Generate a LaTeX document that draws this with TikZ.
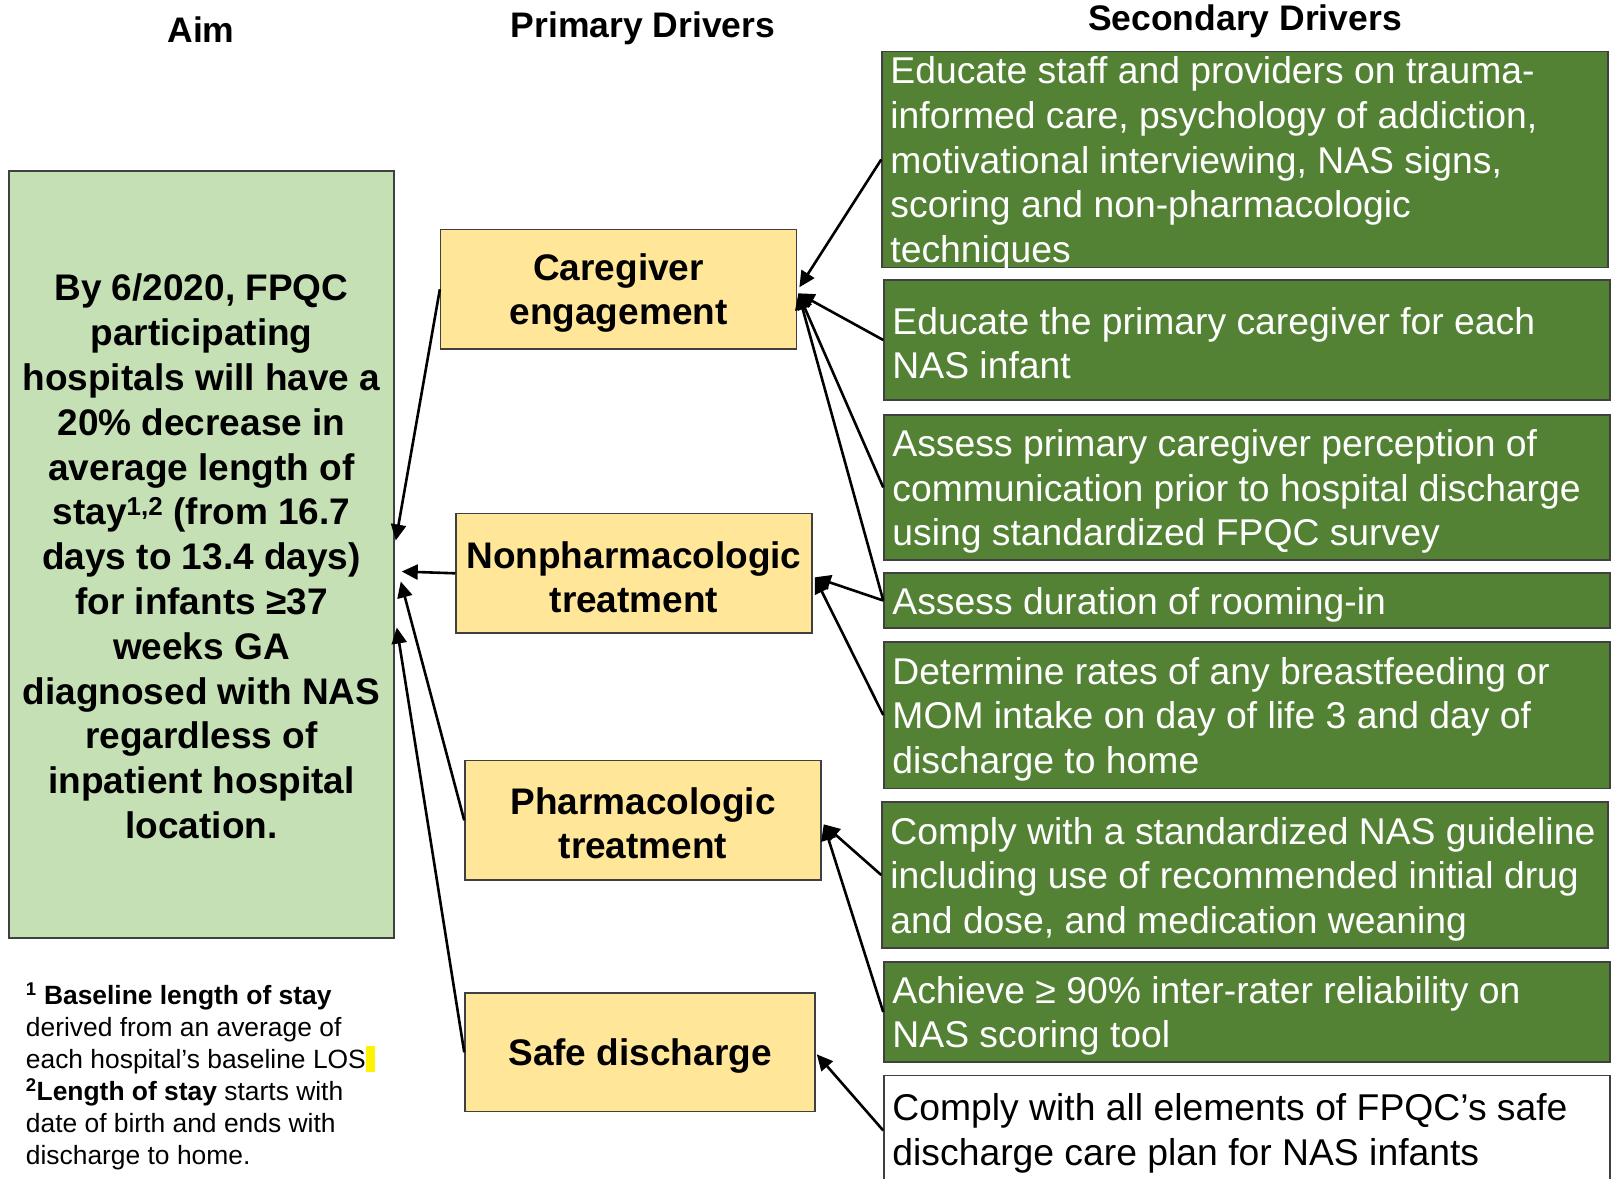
\documentclass[tikz,border=0pt]{standalone}
\usepackage{fontspec}
\setmainfont{Liberation Sans}
\usetikzlibrary{arrows.meta,calc}
\definecolor{aimfill}{HTML}{C5E0B4}
\definecolor{primfill}{HTML}{FFE699}
\definecolor{secfill}{HTML}{548235}
\definecolor{edgegray}{HTML}{404040}
\begin{document}
\begin{tikzpicture}[x=1pt,y=-1pt,
  header/.style={font=\fontsize{35.5}{42}\selectfont\bfseries, inner sep=0pt},
  aimbox/.style={draw=edgegray, line width=1.5pt, fill=aimfill, inner sep=0pt},
  aimtext/.style={align=center, font=\fontsize{37}{44.8}\selectfont\bfseries, inner sep=0pt},
  primbox/.style={draw=edgegray, line width=1.5pt, fill=primfill, inner sep=0pt,
    minimum width=356pt, minimum height=119.5pt},
  primtext/.style={align=center, font=\fontsize{37}{44.3}\selectfont\bfseries, inner sep=0pt},
  secbox/.style={draw=edgegray, line width=1.5pt, fill=secfill, inner sep=0pt, minimum width=726pt},
  sectext/.style={anchor=west, text=white, align=left, inner sep=0pt,
    font=\fontsize{37.3}{44.6}\selectfont},
  arr/.style={line width=2.6pt, -{Triangle[length=16pt,width=15pt]}}
]
\useasboundingbox (0,0) rectangle (1614,1178);
\fill[white] (0,0) rectangle (1614,1178);
\clip (0,0) rectangle (1614,1178);

% headers
\node[header] (haim) at (201,30) {Aim};
\node[header] (hprim) at (643,28.5) {Primary Drivers};
\node[header] (hsec) at (1245,21) {Secondary Drivers};

% aim
\node[aimbox, minimum width=385pt, minimum height=767pt] (aim) at (201.5,554.5) {};
\node[aimtext] (aimt) at ($(aim.center)+(0,2)$)
  {By 6/2020, FPQC\\ participating\\ hospitals will have a\\ 20\% decrease in\\ average length of\\ stay\textsuperscript{1,2} (from 16.7\\ days to 13.4 days)\\ for infants ≥37\\ weeks GA\\ diagnosed with NAS\\ regardless of\\ inpatient hospital\\ location.};

% primary drivers
\node[primbox] (care) at (618.6,289.3) {};
\node[primtext] (caret) at ($(care.center)+(0,4)$) {Caregiver\\ engagement};
\node[primbox] (nonph) at (634,573.3) {};
\node[primtext] (nonpht) at ($(nonph.center)+(0,4)$) {Nonpharmacologic\\ treatment};
\node[primbox] (pharm) at (643,820.3) {};
\node[primtext] (pharmt) at ($(pharm.center)+(0,3)$) {Pharmacologic\\ treatment};
\node[primbox, minimum width=350pt, minimum height=118.6pt] (safe) at (640,1052.3) {};
\node[primtext] (safet) at ($(safe.center)+(0,4)$) {Safe discharge};

% secondary drivers
\node[secbox, minimum height=216pt] (s1) at (1245,159.5) {};
\node[sectext] (s1t) at ($(s1.west)+(9,4)$)
  {Educate staff and providers on trauma-\\ informed care, psychology of addiction,\\ motivational interviewing, NAS signs,\\ scoring and non-pharmacologic\\ techniques};
\node[secbox, minimum height=120pt] (s2) at (1247,340) {};
\node[sectext] (s2t) at ($(s2.west)+(9,3)$)
  {Educate the primary caregiver for each\\ NAS infant};
\node[secbox, minimum height=145pt] (s3) at (1247,487.4) {};
\node[sectext] (s3t) at ($(s3.west)+(9,4)$)
  {Assess primary caregiver perception of\\ communication prior to hospital discharge\\ using standardized FPQC survey};
\node[secbox, minimum height=55pt] (s4) at (1247,600.5) {};
\node[sectext] (s4t) at ($(s4.west)+(9,4)$)
  {Assess duration of rooming-in};
\node[secbox, minimum height=146.5pt] (s5) at (1247,715) {};
\node[sectext] (s5t) at ($(s5.west)+(9,4)$)
  {Determine rates of any breastfeeding or\\ MOM intake on day of life 3 and day of\\ discharge to home};
\node[secbox, minimum height=146pt] (s6) at (1245,875) {};
\node[sectext] (s6t) at ($(s6.west)+(9,4)$)
  {Comply with a standardized NAS guideline\\ including use of recommended initial drug\\ and dose, and medication weaning};
\node[secbox, minimum height=100pt] (s7) at (1247,1012) {};
\node[sectext] (s7t) at ($(s7.west)+(9,4)$)
  {Achieve ≥ 90\% inter-rater reliability on\\ NAS scoring tool};
\node[secbox, fill=white, minimum height=110pt] (s8) at (1247,1130.5) {};
\node[sectext, text=black] (s8t) at ($(s8.west)+(9,3)$)
  {Comply with all elements of FPQC’s safe\\ discharge care plan for NAS infants};

% footnote
\node[anchor=west, inner sep=0pt, align=left, font=\fontsize{26.4}{32}\selectfont] (foot) at (25.7,1076)
  {\textbf{\textsuperscript{1} Baseline length of stay}\\ derived from an average of\\ each hospital’s baseline LOS{\color{yellow}\rule[-4pt]{9pt}{26pt}}\\ \textbf{\textsuperscript{2}Length of stay} starts with\\ date of birth and ends with\\ discharge to home.};

% arrows secondary -> primary
\coordinate (careA) at ($(care.east)+(2,-2)$);
\coordinate (careB) at ($(care.east)+(1,4)$);
\draw[arr] (s1.west) -- (careA);
\draw[arr] (s2.west) -- (careB);
\draw[arr] (s3.west) -- (careB);
\draw[arr] (s4.west) -- (careB);
\coordinate (nonA) at ($(nonph.east)+(2,4)$);
\draw[arr] (s4.west) -- (nonA);
\draw[arr] (s5.west) -- (nonA);
\coordinate (phA) at ($(pharm.east)+(2,4)$);
\draw[arr] (s6.west) -- (phA);
\draw[arr] (s7.west) -- (phA);
\coordinate (sfA) at ($(safe.east)+(1,2)$);
\draw[arr] (s8.west) -- (sfA);

% arrows primary -> aim
\draw[arr] (care.west) -- ($(aim.east)+(1,-14)$);
\draw[arr] (nonph.west) -- ($(aim.east)+(7,17)$);
\draw[arr] (pharm.west) -- ($(aim.east)+(6,27)$);
\draw[arr] (safe.west) -- ($(aim.east)+(2,73)$);
\end{tikzpicture}
\end{document}
